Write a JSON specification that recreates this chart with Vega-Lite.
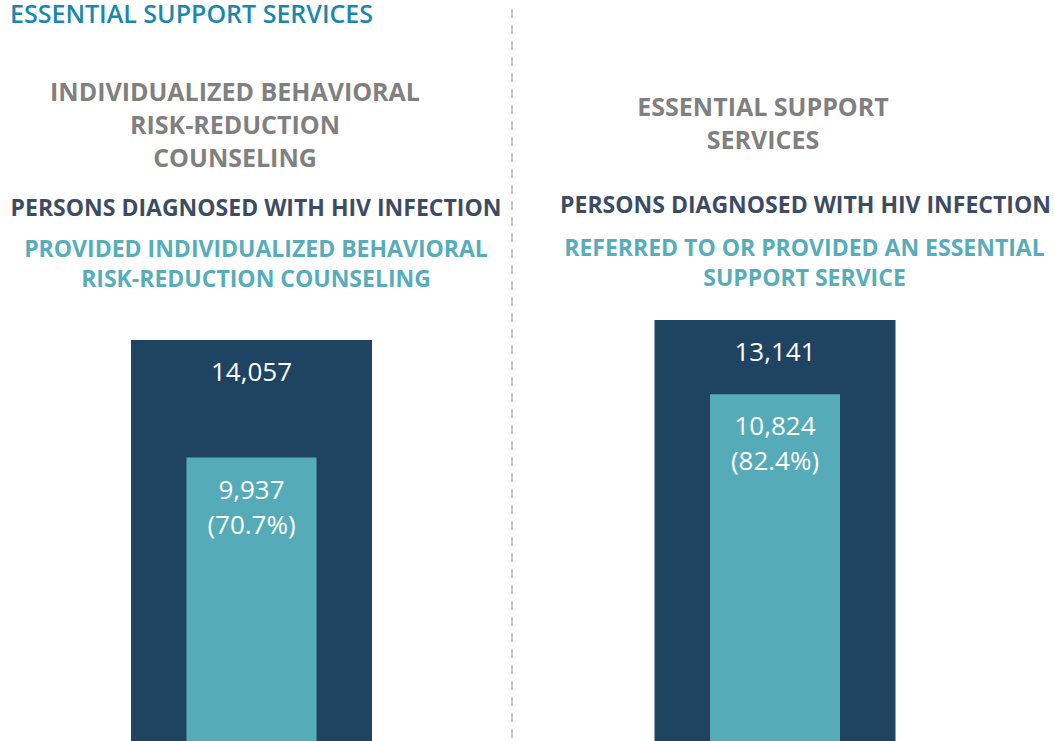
{
  "$schema": "https://vega.github.io/schema/vega-lite/v6.json",
  "padding": {"top": 2, "left": 0, "right": 0, "bottom": 0},
  "autosize": {"type": "pad"},
  "background": "white",
  "title": {
    "text": "ESSENTIAL SUPPORT SERVICES",
    "anchor": "start",
    "dx": 10,
    "offset": -20,
    "color": "#1a87ab",
    "font": "Open Sans",
    "fontSize": 25,
    "fontWeight": 600
  },
  "spacing": 0,
  "bounds": "flush",
  "hconcat": [
    {
      "width": 503,
      "height": 441,
      "title": {
        "text": ["INDIVIDUALIZED BEHAVIORAL", "RISK-REDUCTION", "COUNSELING"],
        "color": "#808080",
        "font": "Open Sans",
        "fontSize": 25,
        "fontWeight": "bold",
        "lineHeight": 33,
        "anchor": "middle",
        "dx": -16.5,
        "offset": 25
      },
      "data": {"values": [
        {"panel": "L", "measure": "diagnosed", "value": 14057, "label": "14,057"},
        {"panel": "L", "measure": "provided", "value": 9937, "label": "9,937\n(70.7%)"}
      ]},
      "encoding": {
        "x": {"field": "panel", "type": "nominal", "scale": {"padding": 0},
          "axis": {"orient": "top", "domain": false, "ticks": false, "grid": false, "labelAngle": 0,
            "labelExpr": "['PROVIDED INDIVIDUALIZED BEHAVIORAL', 'RISK-REDUCTION COUNSELING']",
            "labelColor": "#57adb9", "labelFont": "Open Sans", "labelFontWeight": "bold", "labelFontSize": 23,
            "labelLineHeight": 30, "labelPadding": 39, "labelLimit": 1000, "labelOffset": 4.5, "labelOverlap": false, "labelBound": false,
            "title": "PERSONS DIAGNOSED WITH HIV INFECTION", "titleColor": "#3e4c63", "titleFont": "Open Sans",
            "titleFontWeight": "bold", "titleFontSize": 23, "titlePadding": 18, "titleX": 255.5, "titleLimit": 1000}},
        "y": {"field": "value", "type": "quantitative", "stack": null, "scale": {"domain": [0, 15459.6], "nice": false}, "axis": null}
      },
      "layer": [
        {"mark": {"type": "bar"},
         "encoding": {
           "color": {"field": "measure", "type": "nominal", "scale": {"domain": ["diagnosed", "provided"], "range": ["#1f4462", "#55acb8"]}, "legend": null},
           "size": {"field": "measure", "type": "ordinal", "scale": {"domain": ["diagnosed", "provided"], "range": [241, 130]}, "legend": null}
         }},
        {"mark": {"type": "text", "baseline": "alphabetic", "dy": 41, "fontSize": 26, "font": "Open Sans", "color": "white", "lineBreak": "\n", "lineHeight": 35, "align": "center"},
         "encoding": {"text": {"field": "label", "type": "nominal"}}}
      ]
    },
    {
      "width": 18,
      "height": 441,
      "data": {"values": [{}]},
      "mark": {"type": "rule", "color": "#c4c4c4", "strokeWidth": 2, "strokeDash": [9, 7]},
      "encoding": {
        "x": {"datum": "sep", "type": "nominal", "scale": {"padding": 0}, "axis": null},
        "y": {"datum": 1.66, "type": "quantitative", "scale": {"domain": [0, 1], "nice": false}, "axis": null},
        "y2": {"datum": 0}
      }
    },
    {
      "width": 508,
      "height": 441,
      "title": {
        "text": ["ESSENTIAL SUPPORT", "SERVICES"],
        "color": "#808080",
        "font": "Open Sans",
        "fontSize": 25,
        "fontWeight": "bold",
        "lineHeight": 33,
        "anchor": "middle",
        "dx": -12,
        "offset": 40
      },
      "data": {"values": [
        {"panel": "R", "measure": "diagnosed", "value": 13141, "label": "13,141"},
        {"panel": "R", "measure": "provided", "value": 10824, "label": "10,824\n(82.4%)"}
      ]},
      "encoding": {
        "x": {"field": "panel", "type": "nominal", "scale": {"padding": 0},
          "axis": {"orient": "top", "domain": false, "ticks": false, "grid": false, "labelAngle": 0,
            "labelExpr": "['REFERRED TO OR PROVIDED AN ESSENTIAL', 'SUPPORT SERVICE']",
            "labelColor": "#57adb9", "labelFont": "Open Sans", "labelFontWeight": "bold", "labelFontSize": 23,
            "labelLineHeight": 30, "labelPadding": 40, "labelLimit": 1000, "labelOffset": 29.5, "labelOverlap": false, "labelBound": false,
            "title": "PERSONS DIAGNOSED WITH HIV INFECTION", "titleColor": "#3e4c63", "titleFont": "Open Sans",
            "titleFontWeight": "bold", "titleFontSize": 23, "titlePadding": 20, "titleX": 284, "titleLimit": 1000}},
        "y": {"field": "value", "type": "quantitative", "stack": null, "scale": {"domain": [0, 13765.3], "nice": false}, "axis": null}
      },
      "layer": [
        {"mark": {"type": "bar"},
         "encoding": {
           "color": {"field": "measure", "type": "nominal", "scale": {"domain": ["diagnosed", "provided"], "range": ["#1f4462", "#55acb8"]}, "legend": null},
           "size": {"field": "measure", "type": "ordinal", "scale": {"domain": ["diagnosed", "provided"], "range": [241, 130]}, "legend": null}
         }},
        {"mark": {"type": "text", "baseline": "alphabetic", "dy": 41, "fontSize": 26, "font": "Open Sans", "color": "white", "lineBreak": "\n", "lineHeight": 35, "align": "center"},
         "encoding": {"text": {"field": "label", "type": "nominal"}}}
      ]
    }
  ],
  "config": {
    "font": "Open Sans",
    "view": {"stroke": null}
  }
}
